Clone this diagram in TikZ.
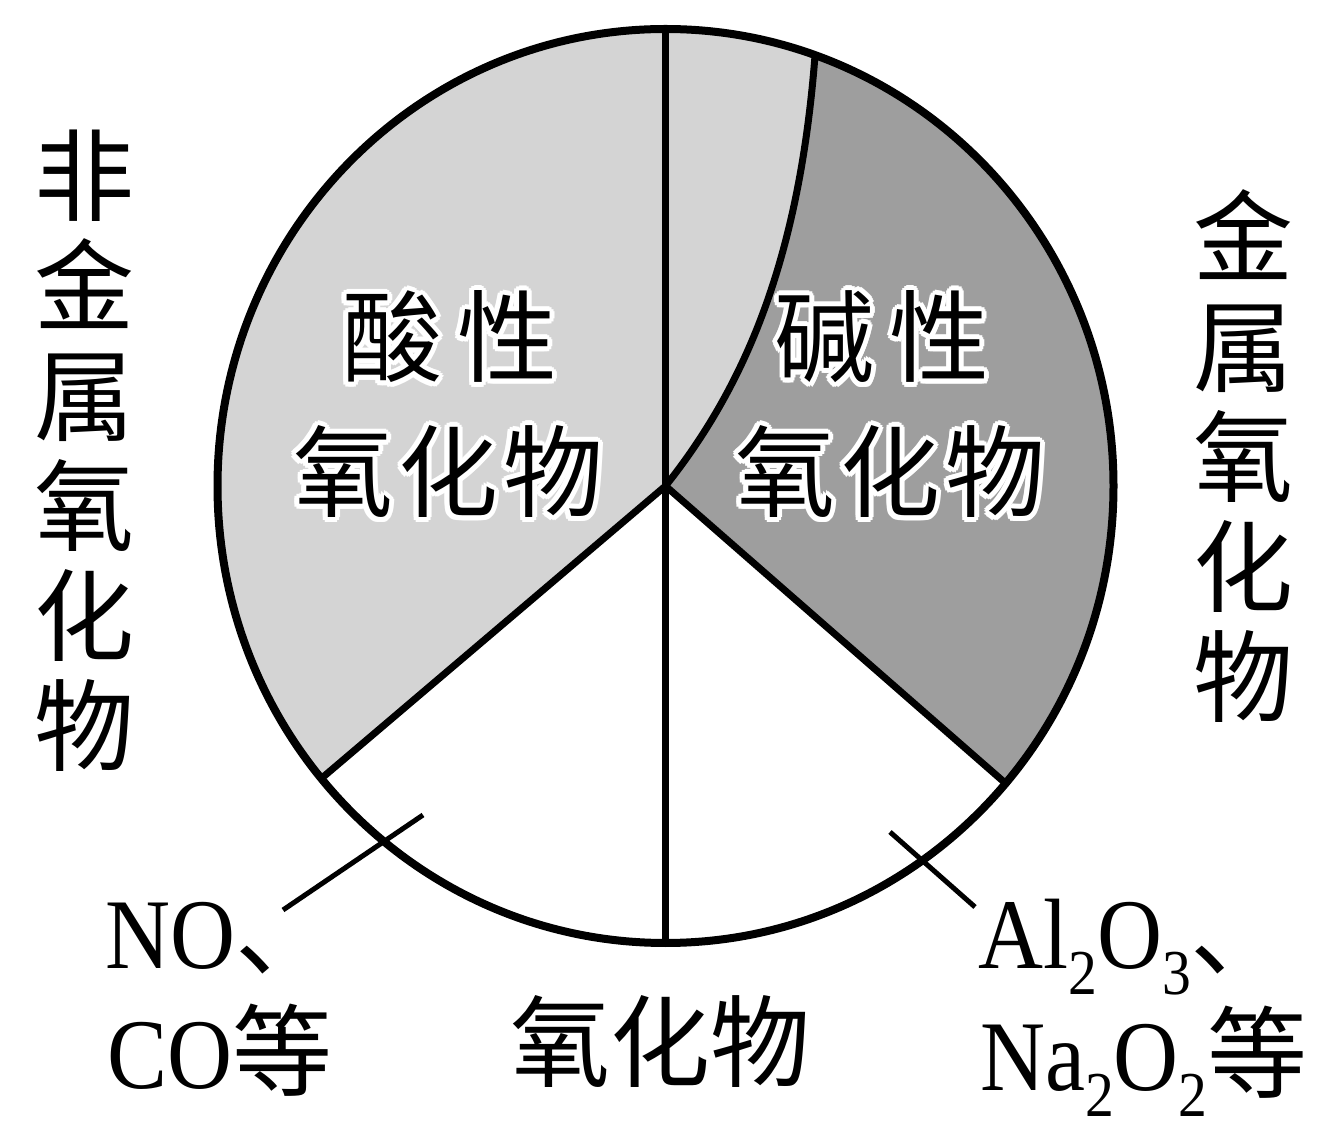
\documentclass[tikz,border=0pt]{standalone}
\usepackage{fontspec}
\setmainfont[FakeStretch=0.9]{Liberation Serif}
\newfontfamily\cjk{Noto Sans CJK SC}
\definecolor{lightgr}{RGB}{212,212,212}
\definecolor{darkgr}{RGB}{158,158,158}
\newcommand\chemsub[1]{\raisebox{-26pt}{\fontsize{64}{64}\selectfont #1}}
\newcommand\halonode[3]{%
  \foreach \ang in {0,30,...,330}{\node[big,text=white,shift={(\ang:5pt)}] at (#2) {#3};}
  \node[big] (#1) at (#2) {#3};}
\tikzset{
  outline/.style={line width=8pt, draw=black},
  divider/.style={line width=7pt},
  leader/.style={line width=5pt},
  big/.style={font=\cjk\fontsize{100}{100}\selectfont, inner sep=0pt},
  column/.style={font=\cjk\fontsize{100}{110}\selectfont, align=center, inner sep=0pt},
  formula/.style={font=\fontsize{100}{100}\selectfont, inner sep=0pt, anchor=base west},
}
\begin{document}
\begin{tikzpicture}[x=1pt,y=1pt]
\useasboundingbox (0,0) rectangle (1341,1141);
\fill[white] (0,0) rectangle (1341,1141);
\coordinate (C) at (665.5,655);
\path (C) ++(219.8:448pt and 457pt) coordinate (LL);
\path (C) ++(319.4:448pt and 457pt) coordinate (LR);
\path (C) ++(70.5:448pt and 457pt) coordinate (TP);
\path (C) ++(0,457) coordinate (TOP);
\path (C) ++(0,-457) coordinate (BOT);
% regions
\fill[white] (C) ellipse[x radius=448pt, y radius=457pt];
\fill[lightgr] (C) -- (LL) arc[start angle=219.8, end angle=70.5, x radius=448pt, y radius=457pt]
   .. controls (800,891) and (750,761) .. (C) -- cycle;
\fill[darkgr] (C) .. controls (750,761) and (800,891) .. (TP)
   arc[start angle=70.5, end angle=-40.6, x radius=448pt, y radius=457pt] -- cycle;
% dividers
\draw[divider] (C) .. controls (750,761) and (800,891) .. (TP);
\draw[divider] (TOP) -- (BOT);
\draw[divider] (LL) -- (C) -- (LR);
\draw[outline] (C) ellipse[x radius=448pt, y radius=457pt];
% inner labels
\halonode{acid1}{449.5,804}{酸\hspace{15pt}性}
\halonode{acid2}{448,669}{氧\hspace{5pt}化\hspace{5pt}物}
\halonode{base1}{882,804}{碱\hspace{15pt}性}
\halonode{base2}{890,669}{氧\hspace{5pt}化\hspace{5pt}物}
% side columns
\node[column] (leftcol) at (84,690) {非\\金\\属\\氧\\化\\物};
\node[column] (rightcol) at (1243,685) {金\\属\\氧\\化\\物};
% bottom
\node[big] (oxide) at (660,100) {氧化物};
\node[formula] (no) at (105,173) {NO{\cjk 、}};
\node[formula] (co) at (107,53) {CO{\cjk 等}};
\node[formula] (al) at (978,173) {Al\chemsub{2}O\chemsub{3}{\cjk 、}};
\node[formula] (na) at (980,51) {Na\chemsub{2}O\chemsub{2}{\cjk 等}};
% leaders
\coordinate (l1) at (423,326);
\coordinate (l2) at (283,231);
\draw[leader] (l1) -- (l2);
\coordinate (r1) at (890,309);
\coordinate (r2) at (975,234);
\draw[leader] (r1) -- (r2);
\end{tikzpicture}
\end{document}
